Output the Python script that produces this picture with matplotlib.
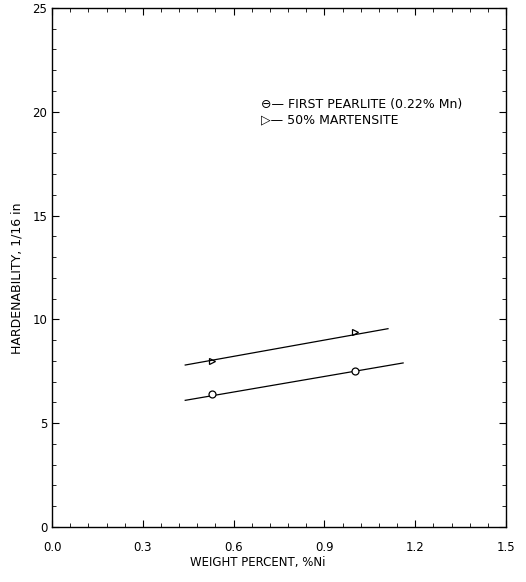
import matplotlib.pyplot as plt
import numpy as np
from matplotlib.ticker import MultipleLocator

# data points
ni_pts = [0.53, 1.00]
pearlite = [6.4, 7.5]
martensite = [8.0, 9.4]

# drawn lines (end points)
pearlite_line_x = [0.44, 1.16]
pearlite_line_y = [6.1, 7.9]
mart_line_x = [0.44, 1.11]
mart_line_y = [7.8, 9.55]

fig = plt.figure(figsize=(5.26, 5.82), dpi=100)
ax = fig.add_axes([0.099, 0.0945, 0.863, 0.892])

ax.plot(pearlite_line_x, pearlite_line_y, color="black", lw=0.9)
ax.plot(mart_line_x, mart_line_y, color="black", lw=0.9)
ax.plot(ni_pts, pearlite, "o", mfc="white", mec="black", ms=5, mew=0.9)
ax.plot(ni_pts, martensite, ">", mfc="none", mec="black", ms=5, mew=0.9)

ax.set_xlim(0, 1.5)
ax.set_ylim(0, 25)
ax.xaxis.set_major_locator(MultipleLocator(0.3))
ax.xaxis.set_minor_locator(MultipleLocator(0.06))
ax.yaxis.set_major_locator(MultipleLocator(5))
ax.yaxis.set_minor_locator(MultipleLocator(1))
ax.xaxis.set_major_formatter(plt.FuncFormatter(lambda v, p: f"{v:.1f}"))
ax.tick_params(which="both", direction="in", top=True, right=True, labelsize=8.5)
ax.tick_params(which="major", length=5, width=0.8)
ax.tick_params(which="minor", length=3, width=0.6)
ax.tick_params(axis="x", pad=10)
for s in ax.spines.values():
    s.set_linewidth(1.0)

ax.set_xlabel("WEIGHT PERCENT, %Ni", fontsize=8.5)
ax.set_ylabel("HARDENABILITY, 1/16 in", fontsize=9)
ax.xaxis.set_label_coords(0.454, -0.055)
ax.yaxis.set_label_coords(-0.062, 0.48)

ax.text(0.69, 20.35, "\u2296\u2014 FIRST PEARLITE (0.22% Mn)", fontsize=9, va="center")
ax.text(0.69, 19.6, "\u25b7\u2014 50% MARTENSITE", fontsize=9, va="center")

plt.savefig("out.png", dpi=100)
